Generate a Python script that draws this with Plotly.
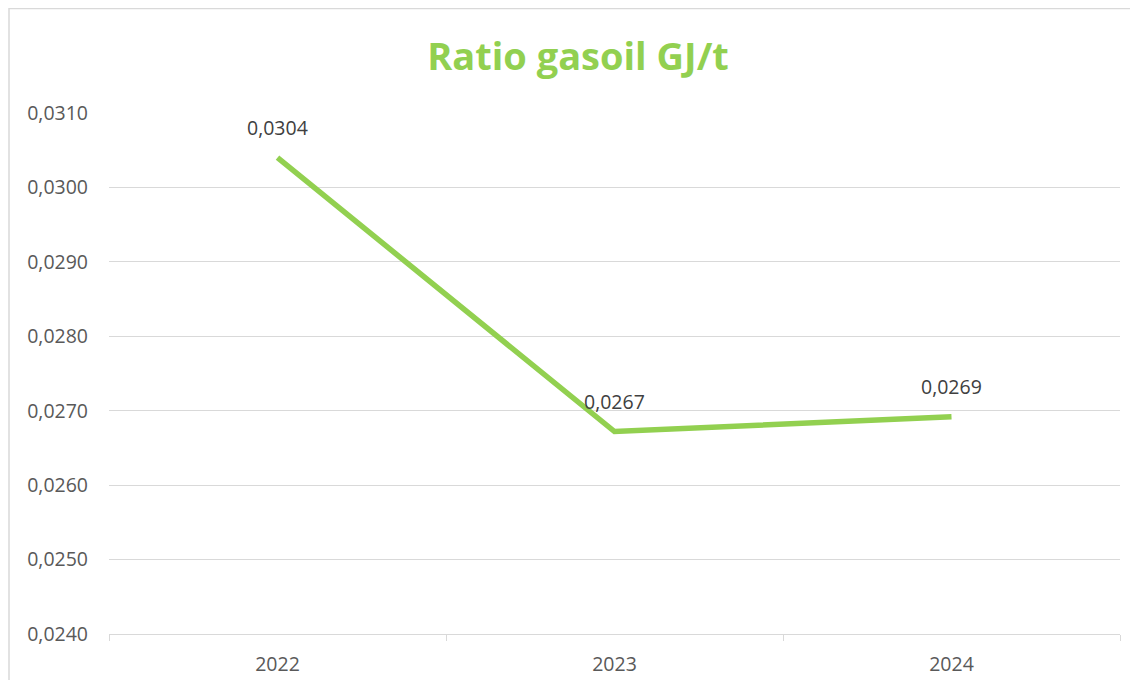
import plotly.graph_objects as go

years = ["2022", "2023", "2024"]
ratio = [0.03040, 0.02672, 0.02692]
labels = ["0,0304", "0,0267", "0,0269"]
y_ticks = [0.024, 0.025, 0.026, 0.027, 0.028, 0.029, 0.030, 0.031]

green = "#92D050"
grey_text = "#595959"
grid = "#D9D9D9"

fig = go.Figure()
fig.add_trace(go.Scatter(
    x=years, y=ratio, mode="lines",
    line=dict(color=green, width=5.5),
    hoverinfo="x+y", showlegend=False,
))

for i, (y, t) in enumerate(zip(ratio, labels)):
    fig.add_annotation(x=i, y=y, text=t, showarrow=False, yshift=30,
                       font=dict(family="Open Sans", size=19.5, color="#404040"))

# page body has an 8px margin, so the figure starts at (8, 8)
fig.update_layout(
    width=1122, height=672,
    margin=dict(l=101, r=10, t=105, b=46, autoexpand=False),
    paper_bgcolor="white", plot_bgcolor="white",
    separators=",.",
    title=dict(text="<b>Ratio gasoil GJ/t</b>", x=(578 - 8) / 1122, xanchor="center",
               y=1 - 49 / 672, yanchor="middle",
               font=dict(family="Open Sans", size=38, color=green)),
    font=dict(family="Open Sans", size=19.5, color=grey_text),
)
fig.update_xaxes(
    type="category", range=[-0.5, 2.5], showgrid=False, showline=True,
    linecolor=grid, linewidth=1,
    ticks="outside", tickson="boundaries", ticklen=6, tickcolor=grid,
    ticklabelstandoff=13, zeroline=False, automargin=False, tickangle=0,
    tickfont=dict(family="Open Sans", size=19.5, color=grey_text),
)
fig.update_yaxes(
    range=[0.024, 0.031], tickvals=y_ticks, tickformat=".4f",
    showgrid=True, gridcolor=grid, gridwidth=1, zeroline=False, showline=False,
    ticklabelstandoff=20, automargin=False,
    tickfont=dict(family="Open Sans", size=19.5, color=grey_text),
)

# outer chart border (top and left edges visible)
y_top = 1 + 105 / 521 - 0.5 / 521
x_left = (1 - 101) / 1011
fig.add_shape(type="path", xref="paper", yref="paper",
              path=f"M {x_left} -0.3 L {x_left} {y_top} L 1.05 {y_top}",
              line=dict(color=grid, width=1.5))

fig.write_html("out.html")
